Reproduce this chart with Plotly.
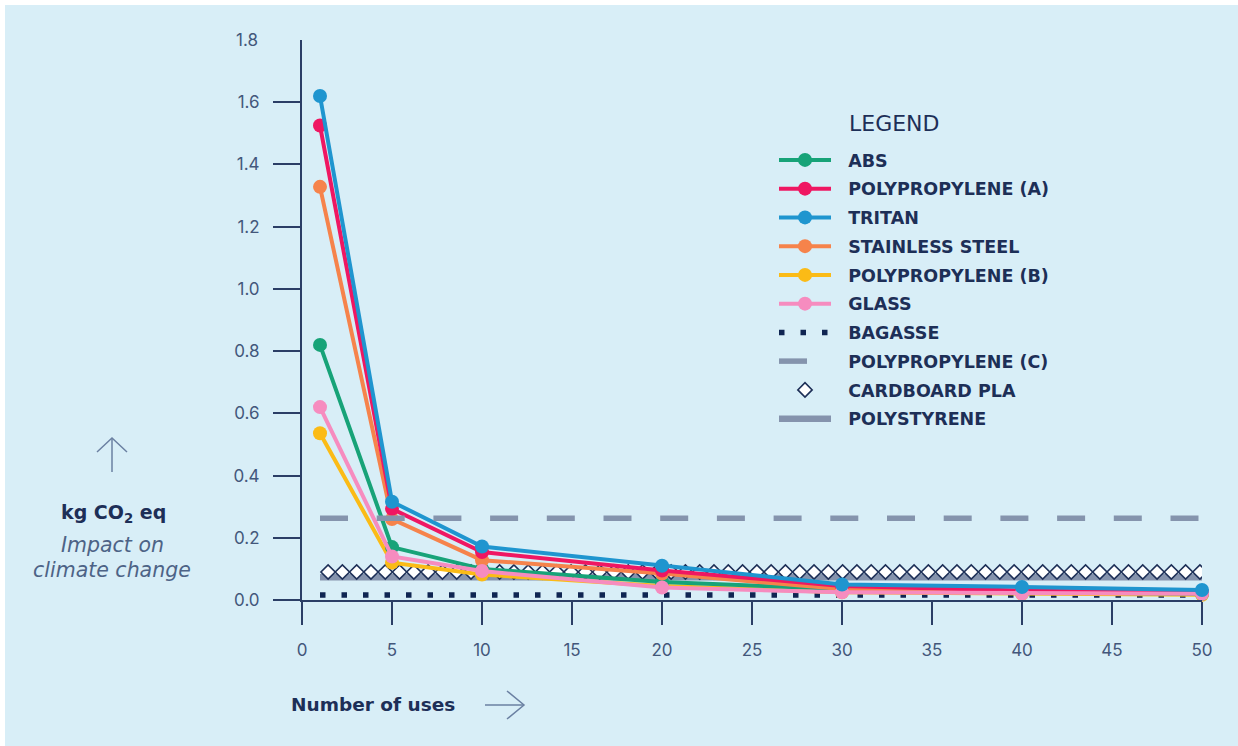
import numpy as np
import plotly.graph_objects as go

# ---- data -------------------------------------------------------------
USES = [1, 5, 10, 20, 30, 40, 50]

ABS = [0.82, 0.17, 0.10, 0.058, 0.035, 0.025, 0.020]
POLYPROPYLENE_A = [1.525, 0.293, 0.154, 0.095, 0.045, 0.030, 0.025]
TRITAN = [1.62, 0.316, 0.172, 0.110, 0.050, 0.042, 0.032]
STAINLESS_STEEL = [1.328, 0.260, 0.128, 0.085, 0.035, 0.027, 0.022]
POLYPROPYLENE_B = [0.536, 0.120, 0.082, 0.045, 0.025, 0.020, 0.017]
GLASS = [0.62, 0.140, 0.093, 0.040, 0.025, 0.021, 0.020]

# single-use items: one constant impact across all uses
BAGASSE = 0.016
POLYPROPYLENE_C = 0.263
CARDBOARD_PLA = 0.09
POLYSTYRENE = 0.073

X_TICKS = [0, 5, 10, 15, 20, 25, 30, 35, 40, 45, 50]
Y_TICKS = [0.0, 0.2, 0.4, 0.6, 0.8, 1.0, 1.2, 1.4, 1.6]
Y_TOP = 1.8

# ---- geometry / style ---------------------------------------------------
W, H = 1238, 746
ML, MR, MT, MB = 302, 36, 40, 146
PW, PH = W - ML - MR, H - MT - MB

BG = "#d8eef7"
NAVY = "#1d2f57"
AXIS = "#2b3e66"
TICK_TXT = "#43577b"
SOFT = "#6b80a2"
FONT = "Inter"
WIDE = "DejaVu Sans"
PAD = "\u2007"  # figure space between legend swatch and label


def px_x(px):
    return (px - ML) / PW


def px_y(py):
    return (MT + PH - py) / PH


fig = go.Figure()

const_x = [USES[0], USES[-1]]


def legend_name(label):
    return PAD + label


# polystyrene: thick solid band
fig.add_trace(go.Scatter(
    x=const_x, y=[POLYSTYRENE] * 2, mode="lines",
    name=legend_name("POLYSTYRENE"), legendgroup="polystyrene",
    line=dict(color="#8593ad", width=6.5), legendrank=10,
))

# cardboard PLA: chain of open diamonds repeated along the constant line
pitch = 0.794
glyph_x = np.arange(USES[0] + 0.45, USES[-1], pitch)
fig.add_trace(go.Scatter(
    x=glyph_x, y=[CARDBOARD_PLA] * len(glyph_x), mode="markers",
    name=legend_name("CARDBOARD PLA"), legendgroup="cardboard",
    marker=dict(symbol="diamond", size=11, color="white",
                line=dict(color=NAVY, width=1.6)),
    legendrank=9,
))

# bagasse: dotted line
fig.add_trace(go.Scatter(
    x=const_x, y=[BAGASSE] * 2, mode="lines",
    name=legend_name("BAGASSE"), legendgroup="bagasse",
    line=dict(color="#0f2552", width=5.5, dash="5.5px,16px"), legendrank=7,
))

series = [
    ("POLYPROPYLENE (B)", POLYPROPYLENE_B, "#fbbb16", 5),
    ("ABS", ABS, "#17a378", 1),
    ("STAINLESS STEEL", STAINLESS_STEEL, "#f6834b", 4),
    ("POLYPROPYLENE (A)", POLYPROPYLENE_A, "#ef1762", 2),
    ("GLASS", GLASS, "#f68cbf", 6),
    ("TRITAN", TRITAN, "#1f95cf", 3),
]
for name, vals, color, rank in series:
    fig.add_trace(go.Scatter(
        x=USES, y=vals, mode="lines+markers",
        name=legend_name(name), legendgroup=name,
        line=dict(color=color, width=4),
        marker=dict(color=color, size=14),
        cliponaxis=False, legendrank=rank,
    ))

# polypropylene (C): dashed line drawn on top
fig.add_trace(go.Scatter(
    x=const_x, y=[POLYPROPYLENE_C] * 2, mode="lines",
    name=legend_name("POLYPROPYLENE (C)"), legendgroup="pp_c",
    line=dict(color="#8594ad", width=5.5, dash="28px,28.7px"), legendrank=8,
))

# ---- axes --------------------------------------------------------------
fig.update_xaxes(
    range=[0, 50], tickvals=X_TICKS, ticktext=[str(v) for v in X_TICKS],
    showline=True, linecolor=AXIS, linewidth=2,
    ticks="outside", ticklen=23, tickwidth=2, tickcolor=AXIS,
    showgrid=False, zeroline=False,
    tickfont=dict(family=FONT, size=17, color=TICK_TXT),
    ticklabelstandoff=11,
)
fig.update_yaxes(
    range=[0, Y_TOP], tickvals=Y_TICKS, ticktext=[f"{v:.1f}" for v in Y_TICKS],
    showline=True, linecolor=AXIS, linewidth=2,
    ticks="outside", ticklen=27, tickwidth=2, tickcolor=AXIS,
    showgrid=False, zeroline=False,
    tickfont=dict(family=FONT, size=17, color=TICK_TXT),
    ticklabelstandoff=10,
)

annotations = [
    # top y label without a tick mark
    dict(x=px_x(260), y=Y_TOP, xref="paper", yref="y", text=f"{Y_TOP:.1f}",
         showarrow=False, xanchor="right", yanchor="middle",
         font=dict(family=FONT, size=17, color=TICK_TXT)),
    dict(x=px_x(847), y=px_y(123), xref="paper", yref="paper", text="LEGEND",
         showarrow=False, xanchor="left", yanchor="middle",
         font=dict(family=WIDE, size=22, color=NAVY)),
    dict(x=px_x(113), y=px_y(513), xref="paper", yref="paper",
         text="<b>kg CO<sub>2</sub> eq</b>",
         showarrow=False, xanchor="center", yanchor="middle",
         font=dict(family=WIDE, size=19, color=NAVY)),
    dict(x=px_x(112), y=px_y(545), xref="paper", yref="paper",
         text="<i>Impact on</i>",
         showarrow=False, xanchor="center", yanchor="middle",
         font=dict(family=WIDE, size=20.5, color="#4d6386")),
    dict(x=px_x(112), y=px_y(570), xref="paper", yref="paper",
         text="<i>climate change</i>",
         showarrow=False, xanchor="center", yanchor="middle",
         font=dict(family=WIDE, size=20.5, color="#4d6386")),
    dict(x=px_x(289), y=px_y(704), xref="paper", yref="paper",
         text="<b>Number of uses</b>",
         showarrow=False, xanchor="left", yanchor="middle",
         font=dict(family=WIDE, size=18.5, color=NAVY)),
]

arrow_line = dict(color=SOFT, width=1.5)
shapes = [
    # page background with a thin white margin on the top and left
    dict(type="rect", xref="paper", yref="paper", layer="below",
         x0=px_x(5), x1=px_x(W), y0=px_y(5), y1=px_y(H),
         fillcolor=BG, line=dict(width=0)),
    # up arrow above the y title
    dict(type="path", xref="paper", yref="paper",
         path=f"M {px_x(112)},{px_y(472)} L {px_x(112)},{px_y(438)}",
         line=arrow_line),
    dict(type="path", xref="paper", yref="paper",
         path=(f"M {px_x(97)},{px_y(452)} L {px_x(112)},{px_y(438)} "
               f"L {px_x(127)},{px_y(452)}"),
         line=arrow_line),
    # right arrow after the x title
    dict(type="path", xref="paper", yref="paper",
         path=f"M {px_x(485)},{px_y(705)} L {px_x(524)},{px_y(705)}",
         line=arrow_line),
    dict(type="path", xref="paper", yref="paper",
         path=(f"M {px_x(507)},{px_y(691)} L {px_x(524)},{px_y(705)} "
               f"L {px_x(507)},{px_y(719)}"),
         line=arrow_line),
]

fig.update_layout(
    width=W, height=H,
    margin=dict(l=ML, r=MR, t=MT, b=MB, pad=0),
    paper_bgcolor="white", plot_bgcolor="rgba(0,0,0,0)",
    showlegend=True,
    legend=dict(
        x=px_x(774), y=px_y(142), xanchor="left", yanchor="top",
        bgcolor="rgba(0,0,0,0)", borderwidth=0,
        font=dict(family=WIDE, size=17.5, color=NAVY, weight=700),
        itemwidth=52, traceorder="grouped", tracegroupgap=3,
        itemsizing="trace",
    ),
    annotations=annotations, shapes=shapes,
)

fig.write_html("out.html")
